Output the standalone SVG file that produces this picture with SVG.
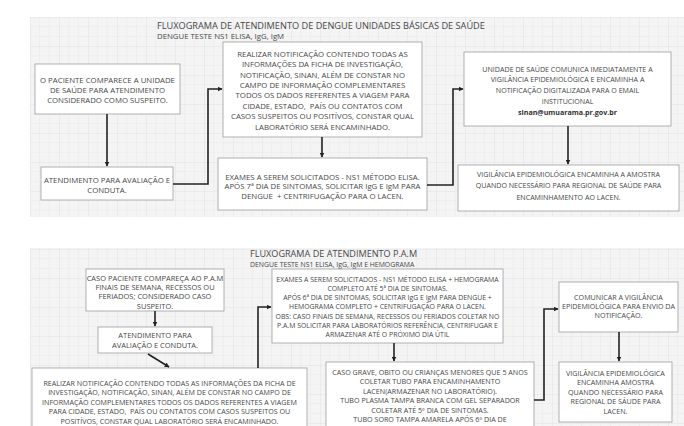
<svg xmlns="http://www.w3.org/2000/svg" width="684" height="426" viewBox="0 0 684 426">
<defs>
<pattern id="grid" width="29" height="29" patternUnits="userSpaceOnUse" x="30" y="17">
<rect width="29" height="29" fill="#f4f4f5"/>
<path d="M9.67 0V29M19.33 0V29M0 9.67H29M0 19.33H29" stroke="#eaeaeb" stroke-width="0.6" fill="none"/>
<path d="M0 0V29M0 0H29" stroke="#dfe0e1" stroke-width="0.8" fill="none"/>
</pattern>
<marker id="ah" viewBox="0 0 10 10" refX="9" refY="5" markerWidth="5" markerHeight="5" orient="auto" markerUnits="userSpaceOnUse">
<path d="M0 0L10 5L0 10Z" fill="#222"/>
</marker>
<style>
text{font-family:"Open Sans","Liberation Sans",sans-serif;fill:#474747;white-space:pre}
.box{fill:#fff;stroke:#a8a8a8;stroke-width:0.9}
.a{font-size:7.8px;text-anchor:middle}
.a2{font-size:7.1px;text-anchor:middle}
.b{font-size:7.15px;text-anchor:middle}
.b2{font-size:6.9px;text-anchor:middle}
.b3{font-size:7.5px;text-anchor:middle}
.conn path{fill:none;stroke:#222;stroke-width:1.6;marker-end:url(#ah)}
</style>
</defs>
<rect x="30" y="17" width="654" height="200" fill="url(#grid)"/>
<rect x="30" y="248" width="654" height="178" fill="url(#grid)"/>

<g id="title-top">
<text x="157" y="29" style="font-size:9.2px">FLUXOGRAMA DE ATENDIMENTO DE DENGUE UNIDADES BÁSICAS DE SAÚDE</text>
<text x="157" y="39" style="font-size:7.8px">DENGUE TESTE NS1 ELISA, IgG, IgM</text>
</g>

<g id="n1">
<rect class="box" x="35" y="64" width="145" height="50"/>
<text class="a" x="107.5" y="82.8">O PACIENTE COMPARECE A UNIDADE</text>
<text class="a" x="107.5" y="92.8">DE SAÚDE PARA ATENDIMENTO</text>
<text class="a" x="107.5" y="102.8">CONSIDERADO COMO SUSPEITO.</text>
</g>
<g id="n2">
<rect class="box" x="41" y="167" width="132" height="33"/>
<text class="a" x="107" y="182.8">ATENDIMENTO PARA AVALIAÇÃO E</text>
<text class="a" x="107" y="192.8">CONDUTA.</text>
</g>
<g id="n3">
<rect class="box" x="223" y="42" width="199" height="95"/>
<text class="a" x="322.5" y="56.8">REALIZAR NOTIFICAÇÃO CONTENDO TODAS AS</text>
<text class="a" x="322.5" y="67.2">INFORMAÇÕES DA FICHA DE INVESTIGAÇÃO,</text>
<text class="a" x="322.5" y="77.6">NOTIFICAÇÃO, SINAN, ALÉM DE CONSTAR NO</text>
<text class="a" x="322.5" y="88">CAMPO DE INFORMAÇÃO COMPLEMENTARES</text>
<text class="a" x="322.5" y="98.4">TODOS OS DADOS REFERENTES A VIAGEM PARA</text>
<text class="a" x="322.5" y="108.8">CIDADE, ESTADO,  PAÍS OU CONTATOS COM</text>
<text class="a" x="322.5" y="119.2">CASOS SUSPEITOS OU POSITÍVOS, CONSTAR QUAL</text>
<text class="a" x="322.5" y="129.6">LABORATÓRIO SERÁ ENCAMINHADO.</text>
</g>
<g id="n4">
<rect class="box" x="218" y="158" width="209" height="52"/>
<text class="a" x="322.5" y="179.5">EXAMES A SEREM SOLICITADOS - NS1 MÉTODO ELISA.</text>
<text class="a" x="322.5" y="189.1">APÓS 7ª DIA DE SINTOMAS, SOLICITAR IgG E IgM PARA</text>
<text class="a" x="322.5" y="198.7">DENGUE  + CENTRIFUGAÇÃO PARA O LACEN.</text>
</g>
<g id="n5">
<rect class="box" x="464" y="52" width="207" height="74"/>
<text class="a2" x="567.5" y="71.6">UNIDADE DE SAÚDE COMUNICA IMEDIATAMENTE A</text>
<text class="a2" x="567.5" y="82.3">VIGILÂNCIA EPIDEMIOLÓGICA E ENCAMINHA A</text>
<text class="a2" x="567.5" y="93">NOTIFICAÇÃO DIGITALIZADA PARA O EMAIL</text>
<text class="a2" x="567.5" y="103.7">INSTITUCIONAL</text>
<text class="a2" x="567.5" y="115.4" style="font-weight:bold;fill:#333">sinan@umuarama.pr.gov.br</text>
</g>
<g id="n6">
<rect class="box" x="458" y="165" width="221" height="46"/>
<text class="a2" x="568.5" y="176.6">VIGILÂNCIA EPIDEMIOLÓGICA ENCAMINHA A AMOSTRA</text>
<text class="a2" x="568.5" y="188.3">QUANDO NECESSÁRIO PARA REGIONAL DE SAÚDE PARA</text>
<text class="a2" x="568.5" y="200">ENCAMINHAMENTO AO LACEN.</text>
</g>

<g id="title-bottom">
<text x="250" y="257" style="font-size:9.1px">FLUXOGRAMA DE ATENDIMENTO P.A.M</text>
<text x="250" y="266.5" style="font-size:6.9px">DENGUE TESTE NS1 ELISA, IgG, IgM E HEMOGRAMA</text>
</g>

<g id="n7">
<rect class="box" x="86" y="269" width="138" height="42"/>
<text class="b3" x="155" y="280.6">CASO PACIENTE COMPAREÇA AO P.A.M</text>
<text class="b3" x="155" y="289.9">FINAIS DE SEMANA, RECESSOS OU</text>
<text class="b3" x="155" y="299.2">FERIADOS; CONSIDERADO CASO</text>
<text class="b3" x="155" y="308.5">SUSPEITO.</text>
</g>
<g id="n8">
<rect class="box" x="98" y="327" width="114" height="26"/>
<text class="b3" x="155" y="337.6">ATENDIMENTO PARA</text>
<text class="b3" x="155" y="347.6">AVALIAÇÃO E CONDUTA.</text>
</g>
<g id="n9">
<rect class="box" x="32" y="368" width="275" height="62"/>
<text class="b" x="169.5" y="385.6">REALIZAR NOTIFICAÇÃO CONTENDO TODAS AS INFORMAÇÕES DA FICHA DE</text>
<text class="b" x="169.5" y="395.1">INVESTIGAÇÃO, NOTIFICAÇÃO, SINAN, ALÉM DE CONSTAR NO CAMPO DE</text>
<text class="b" x="169.5" y="404.6">INFORMAÇÃO COMPLEMENTARES TODOS OS DADOS REFERENTES A VIAGEM</text>
<text class="b" x="169.5" y="414.1">PARA CIDADE, ESTADO,  PAÍS OU CONTATOS COM CASOS SUSPEITOS OU</text>
<text class="b" x="169.5" y="423.6">POSITÍVOS, CONSTAR QUAL LABORATÓRIO SERÁ ENCAMINHADO.</text>
</g>
<g id="n10">
<rect class="box" x="272" y="269" width="231" height="74"/>
<text class="b2" x="387.5" y="281.5">EXAMES A SEREM SOLICITADOS - NS1 MÉTODO ELISA + HEMOGRAMA</text>
<text class="b2" x="387.5" y="290.8">COMPLETO ATÉ 5ª DIA DE SINTOMAS.</text>
<text class="b2" x="387.5" y="300.1">APÓS 6ª DIA DE SINTOMAS, SOLICITAR IgG E IgM PARA DENGUE +</text>
<text class="b2" x="387.5" y="309.4">HEMOGRAMA COMPLETO + CENTRIFUGAÇÃO PARA O LACEN.</text>
<text class="b2" x="387.5" y="318.7">OBS: CASO FINAIS DE SEMANA, RECESSOS OU FERIADOS COLETAR NO</text>
<text class="b2" x="387.5" y="328">P.A.M SOLICITAR PARA LABORATÓRIOS REFERÊNCIA, CENTRIFUGAR E</text>
<text class="b2" x="387.5" y="337.3">ARMAZENAR ATÉ O PRÓXIMO DIA ÚTIL</text>
</g>
<g id="n11">
<rect class="box" x="326" y="362" width="208" height="70"/>
<text class="b" x="430" y="374.6">CASO GRAVE, OBITO OU CRIANÇAS MENORES QUE 5 ANOS</text>
<text class="b" x="430" y="384.1">COLETAR TUBO PARA ENCAMINHAMENTO</text>
<text class="b" x="430" y="393.6">LACEN(ARMAZENAR NO LABORATÓRIO).</text>
<text class="b" x="430" y="403.1">TUBO PLASMA TAMPA BRANCA COM GEL SEPARADOR</text>
<text class="b" x="430" y="412.6">COLETAR ATÉ 5º DIA DE SINTOMAS.</text>
<text class="b" x="430" y="422.1">TUBO SORO TAMPA AMARELA APÓS 6º DIA DE</text>
</g>
<g id="n12">
<rect class="box" x="559" y="282" width="119" height="50"/>
<text class="b" x="618.5" y="299.6">COMUNICAR A VIGILÂNCIA</text>
<text class="b" x="618.5" y="308.9">EPIDEMIOLÓGICA PARA ENVIO DA</text>
<text class="b" x="618.5" y="318.2">NOTIFICAÇÃO.</text>
</g>
<g id="n13">
<rect class="box" x="559" y="362" width="113" height="60"/>
<text class="b" x="615.5" y="375.6">VIGILÂNCIA EPIDEMIOLÓGICA</text>
<text class="b" x="615.5" y="385.1">ENCAMINHA AMOSTRA</text>
<text class="b" x="615.5" y="394.6">QUANDO NECESSÁRIO PARA</text>
<text class="b" x="615.5" y="404.1">REGIONAL DE SÁUDE PARA</text>
<text class="b" x="615.5" y="413.6">LACEN.</text>
</g>

<g id="connectors" class="conn">
<path d="M107 114V166"/>
<path d="M173 184H208V89H222"/>
<path d="M322 137V157"/>
<path d="M427 185H453V89H463"/>
<path d="M568 126V164"/>
<path d="M155 311V326"/>
<path d="M148 354L169 367"/>
<path d="M258 368V307H271"/>
<path d="M394 343V361"/>
<path d="M534 400H544V309H558"/>
<path d="M619 332V361"/>
</g>
</svg>
